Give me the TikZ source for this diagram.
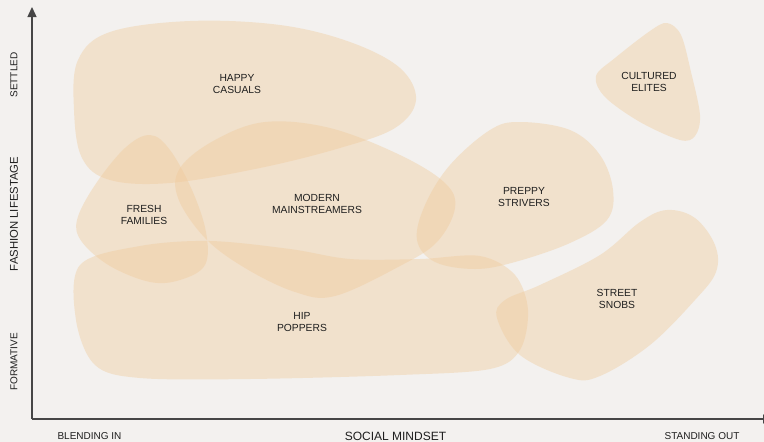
\documentclass[tikz,border=0pt]{standalone}
\usepackage{fontspec}
\setmainfont{Liberation Sans}
\usetikzlibrary{arrows.meta}

\definecolor{paper}{RGB}{243,241,239}
\definecolor{segfill}{RGB}{240,203,156}
\definecolor{ink}{RGB}{30,30,30}
\definecolor{axisgrey}{RGB}{70,70,70}

\tikzset{
  segment/.style={fill=segfill, fill opacity=0.42, draw=none},
  seglabel/.style={text=ink, align=center, inner sep=0pt,
    font=\fontsize{10.3}{12.6}\selectfont},
  axislabel/.style={text=ink, inner sep=0pt, font=\fontsize{10}{12}\selectfont},
  axistitle/.style={text=ink, inner sep=0pt, font=\fontsize{12}{14}\selectfont},
  axisline/.style={draw=axisgrey, line width=1.3pt},
}

\begin{document}
\begin{tikzpicture}[x=1pt, y=-1pt]
  \fill[paper] (0,0) rectangle (764,442);
  \useasboundingbox (0,0) rectangle (764,442);
  \clip (0,0) rectangle (764,442);

  % segment regions
  \fill[segment] plot[smooth cycle, tension=0.6] coordinates {
    (78,60) (110,32) (190,21) (280,25) (350,42) (400,68) (416,100)
    (395,128) (340,148) (260,168) (170,183) (110,180) (82,158) (74,110)};
  \fill[segment] plot[smooth cycle, tension=0.6] coordinates {
    (180,168) (215,140) (265,122) (330,128) (400,155) (445,183) (455,208)
    (437,242) (400,266) (335,296) (295,292) (245,268) (205,238) (178,198)};
  \fill[segment] plot[smooth cycle, tension=0.6] coordinates {
    (150,135) (170,150) (192,190) (206,232) (205,265) (180,280) (150,282)
    (110,266) (82,242) (77,220) (95,185) (125,148)};
  \fill[segment] plot[smooth cycle, tension=0.55] coordinates {
    (80,265) (140,246) (210,241) (290,249) (350,259) (420,259) (480,256)
    (515,275) (528,310) (520,350) (490,369) (400,375) (250,379) (140,378)
    (95,365) (76,320)};
  \fill[segment] plot[smooth cycle, tension=0.6] coordinates {
    (520,122) (570,130) (600,155) (613,190) (607,220) (570,243) (515,262)
    (475,269) (435,262) (417,240) (425,205) (450,165) (490,130)};
  \fill[segment] plot[smooth cycle, tension=0.55] coordinates {
    (667,23) (681,35) (691,72) (700,115) (695,136) (680,140) (640,122)
    (605,97) (596,76) (615,58) (650,31)};
  \fill[segment] plot[smooth cycle, tension=0.6] coordinates {
    (667,210) (695,218) (715,245) (716,272) (695,300) (650,345) (600,376)
    (570,378) (520,355) (497,318) (505,300) (540,285) (600,255) (640,222)};

  % segment names
  \node[seglabel] (happy)   at (237,84)  {HAPPY\\CASUALS};
  \node[seglabel] (modern)  at (317,204) {MODERN\\MAINSTREAMERS};
  \node[seglabel] (fresh)   at (144,215) {FRESH\\FAMILIES};
  \node[seglabel] (hip)     at (302,322) {HIP\\POPPERS};
  \node[seglabel] (preppy)  at (524,197) {PREPPY\\STRIVERS};
  \node[seglabel] (elites)  at (649,82)  {CULTURED\\ELITES};
  \node[seglabel] (snobs)   at (617,299) {STREET\\SNOBS};

  % axes
  \coordinate (origin) at (32,419);
  \coordinate (ytop) at (32,7);
  \coordinate (xend) at (773,419);
  \draw[axisline, -{Triangle[length=10pt,width=9pt]}] (origin) -- (ytop);
  \draw[axisline, -{Triangle[length=10pt,width=9pt]}] (origin) -- (xend);

  % axis labels
  \node[axislabel] (blend) at (89.5,436) {BLENDING IN};
  \node[axistitle] (social) at (395.5,436) {SOCIAL MINDSET};
  \node[axislabel] (stand) at (702,436) {STANDING OUT};
  \node[axislabel, rotate=90] (settled) at (14,75) {SETTLED};
  \node[axistitle, rotate=90, font=\fontsize{11.3}{13}\selectfont] (fashion) at (14,214) {FASHION LIFESTAGE};
  \node[axislabel, rotate=90] (formative) at (14,362) {FORMATIVE};
\end{tikzpicture}
\end{document}
